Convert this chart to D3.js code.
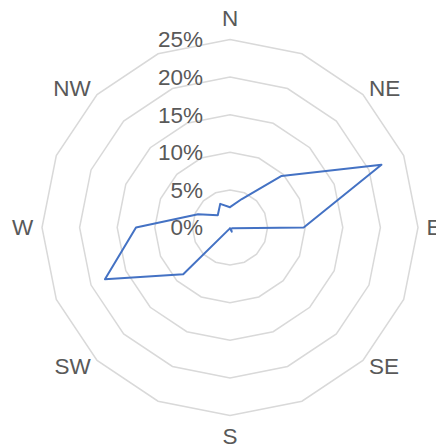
<!DOCTYPE html>
<html>
<head>
<meta charset="utf-8">
<script src="https://cdn.jsdelivr.net/npm/d3@7/dist/d3.min.js"></script>
<style>
  html, body { margin: 0; padding: 0; background: #ffffff; }
  svg { display: block; }
  text { font-family: "Liberation Sans", Arial, sans-serif; fill: #595959; }
</style>
</head>
<body>
<svg id="chart" width="436" height="445"></svg>
<script>
// Wind direction sectors, clockwise from north
const directions = ["N", "NNE", "NE", "ENE", "E", "ESE", "SE", "SSE",
                    "S", "SSW", "SW", "WSW", "W", "WNW", "NW", "NNW"];
// Frequency of each direction, in percent
const frequency = [2.7, 4.1, 9.7, 21.8, 9.8, 0.3, 0.2, 0.6,
                   0.1, 0.2, 8.8, 18.0, 12.5, 4.6, 2.3, 3.4];
// Radial axis ticks, in percent
const ticks = [0, 5, 10, 15, 20, 25];

const svg = d3.select("#chart");
const cx = 230, cy = 227.5, outer = 188;
const fontSize = 22.5;

const r = d3.scaleLinear().domain([0, 25]).range([0, outer]);
const angle = d3.scaleLinear().domain([0, directions.length]).range([0, 2 * Math.PI]);

const g = svg.append("g").attr("transform", `translate(${cx},${cy})`);

// Polygonal grid rings
const ring = d3.lineRadial().curve(d3.curveLinearClosed)
  .angle((d, i) => angle(i)).radius(d => d);
g.append("g").selectAll("path")
  .data(ticks.filter(t => t > 0))
  .join("path")
  .attr("d", t => ring(directions.map(() => r(t))))
  .attr("fill", "none")
  .attr("stroke", "#d9d9d9")
  .attr("stroke-width", 1.5);

// Radial axis labels
g.append("g").selectAll("text")
  .data(ticks)
  .join("text")
  .attr("x", -27)
  .attr("y", t => -r(t))
  .attr("dy", "0.35em")
  .attr("text-anchor", "end")
  .attr("font-size", fontSize)
  .text(t => t + "%");

// Direction labels on the main compass points, set just outside the outer ring
const labels = g.append("g").selectAll("text")
  .data(directions.map((d, i) => ({ name: d, i })).filter(d => d.i % 2 === 0))
  .join("text")
  .attr("dy", "0.35em")
  .attr("text-anchor", "middle")
  .attr("font-size", fontSize)
  .text(d => d.name);

labels.each(function (d) {
  const a = angle(d.i);
  const s = Math.sin(a), c = Math.cos(a);
  const hw = this.getBBox().width / 2;
  const onAxis = Math.abs(s) < 0.01 || Math.abs(c) < 0.01;
  const x = s * (outer + 8.5) + Math.sign(Math.round(s * 100)) * hw;
  const y = -c * outer - Math.sign(Math.round(c * 100)) * (onAxis ? 21 : 6);
  d3.select(this).attr("x", x).attr("y", y);
});

// Frequency polygon
const series = d3.lineRadial().curve(d3.curveLinearClosed)
  .angle((d, i) => angle(i)).radius(d => r(d));
g.append("path")
  .attr("d", series(frequency))
  .attr("fill", "none")
  .attr("stroke", "#4472c4")
  .attr("stroke-width", 2)
  .attr("stroke-linejoin", "round");
</script>
</body>
</html>
